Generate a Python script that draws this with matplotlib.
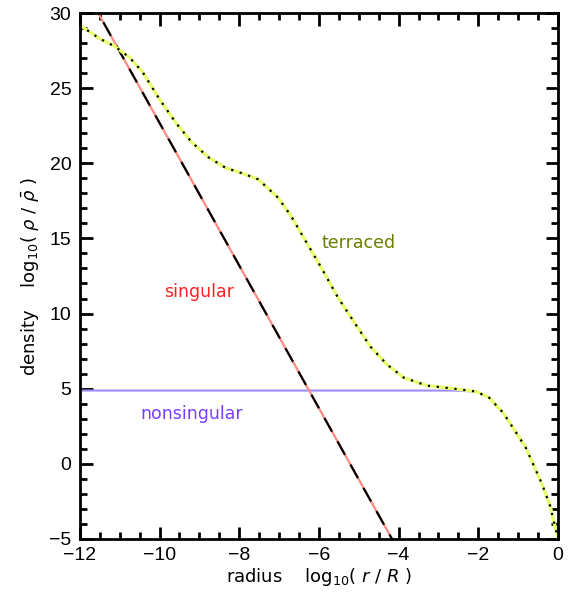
import numpy as np
import matplotlib.pyplot as plt
from matplotlib.ticker import MultipleLocator

# terraced profile
terr_x = [-12.0, -11.5, -11.13, -10.76, -10.43, -10.0, -9.59, -9.19, -8.77, -8.34,
          -7.85, -7.52, -7.02, -6.70, -6.35, -5.95, -5.53, -5.11, -4.71, -4.29,
          -3.87, -3.29, -2.62, -2.05, -1.73, -1.38, -1.05, -0.81, -0.41, -0.2, 0.0]
terr_y = [29.2, 28.3, 27.8, 27.07, 26.1, 24.27, 22.7, 21.4, 20.4, 19.7,
          19.27, 18.93, 17.7, 16.5, 14.9, 13.1, 11.1, 9.4, 7.8, 6.6,
          5.73, 5.2, 5.0, 4.8, 4.4, 3.4, 2.07, 1.07, -1.3, -2.8, -5.0]

# nonsingular: flat core, same outer fall-off
nons_x = [-12.0, -6.0, -2.62, -2.05, -1.73, -1.38, -1.05, -0.81, -0.41, -0.2, 0.0]
nons_y = [4.87, 4.87, 4.87, 4.8, 4.4, 3.4, 2.07, 1.07, -1.3, -2.8, -5.0]

# singular power law
sing_x = [-12.0, -4.0]
sing_y = [32.2, -5.8]

fig = plt.figure(figsize=(5.7, 5.98), dpi=100)
ax = fig.add_axes([0.140, 0.099, 0.839, 0.879])

ax.plot(nons_x, nons_y, color='#a08cff', lw=1.5)
ax.plot(sing_x, sing_y, color='#ff8a80', lw=1.6)
ax.plot(sing_x, sing_y, color='black', lw=1.6, dashes=(7, 5))
ax.plot(terr_x, terr_y, color='#eaff70', lw=2.4)
ax.plot(terr_x, terr_y, color='black', lw=1.6, linestyle=(0, (1, 3)))

lab = dict(fontsize=12.5, family='DejaVu Sans', ha='center', va='center')
ax.text(-5.0, 14.7, 'terraced', color='#6b7d00', **lab)
ax.text(-9.0, 11.4, 'singular', color='#ff2020', **lab)
ax.text(-9.2, 3.3, 'nonsingular', color='#7a3dff', **lab)

ax.set_xlim(-12, 0)
ax.set_ylim(-5, 30)
ax.xaxis.set_major_locator(MultipleLocator(2))
ax.xaxis.set_minor_locator(MultipleLocator(0.5))
ax.yaxis.set_major_locator(MultipleLocator(5))
ax.yaxis.set_minor_locator(MultipleLocator(1))
ax.tick_params(which='both', direction='in', top=True, right=True, width=2,
               labelsize=14, pad=6)
ax.tick_params(which='major', length=9)
ax.tick_params(which='minor', length=5)
for lbl in ax.get_xticklabels() + ax.get_yticklabels():
    lbl.set_family('Liberation Sans')
for s in ax.spines.values():
    s.set_linewidth(2)

ax.set_xlabel(r'radius    log$_{10}$( $r$ / $R$ )', fontsize=13, family='DejaVu Sans', labelpad=1)
ax.set_ylabel(r'density    log$_{10}$( $\rho$ / $\bar{\rho}$ )', fontsize=13, family='DejaVu Sans', labelpad=6)

fig.savefig('out.png', dpi=100)
